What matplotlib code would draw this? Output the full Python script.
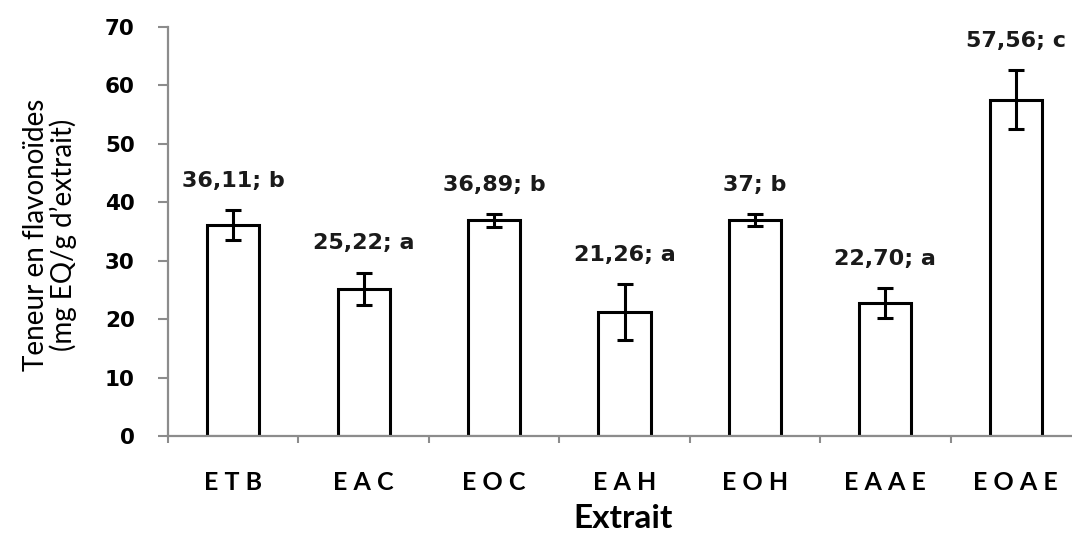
import matplotlib
matplotlib.use("Agg")
import matplotlib.pyplot as plt
from matplotlib.ticker import FixedLocator, NullFormatter
import numpy as np

categories = ["E T B", "E A C", "E O C", "E A H", "E O H", "E A A E", "E O A E"]
means = [36.11, 25.22, 36.89, 21.26, 37.0, 22.70, 57.56]
errors = [2.6, 2.75, 1.1, 4.8, 1.0, 2.55, 5.0]
labels = ["36,11; b", "25,22; a", "36,89; b", "21,26; a", "37; b", "22,70; a", "57,56; c"]
yticks = [0, 10, 20, 30, 40, 50, 60, 70]

W, H = 1072, 533
fig = plt.figure(figsize=(W / 100, H / 100), dpi=100)
ax = fig.add_axes([168 / W, 1 - 436 / H, (1081 - 168) / W, (436 - 27) / H])

x = np.arange(len(categories))
ax.bar(x, means, width=0.4, color="white", edgecolor="black", linewidth=2.2, zorder=2)
ax.errorbar(x, means, yerr=errors, fmt="none", ecolor="black", elinewidth=2.2,
            capsize=6, capthick=2.2, zorder=3)

for xi, m, e, lab in zip(x, means, errors, labels):
    ax.annotate(lab, (xi, m + e), xytext=(0, 21), textcoords="offset points",
                ha="center", va="center", fontsize=16, fontweight="bold",
                family="DejaVu Sans", color="#1a1a1a")

ax.set_xlim(-0.5, len(categories) - 0.5)
ax.set_ylim(0, 70)
ax.set_yticks(yticks)
ax.set_yticklabels([str(v) for v in yticks], fontsize=15.5, fontweight="bold",
                   family="DejaVu Sans")

# category names sit between boundary ticks
ax.xaxis.set_major_locator(FixedLocator(np.arange(-0.5, len(categories), 1.0)))
ax.xaxis.set_major_formatter(NullFormatter())
ax.xaxis.set_minor_locator(FixedLocator(x))
ax.set_xticklabels(categories, minor=True, fontsize=18, fontweight="bold", family="Lato")
ax.tick_params(axis="x", which="minor", length=0, pad=25)
ax.tick_params(axis="x", which="major", length=5, width=1.5, color="#8c8c8c", direction="out")
ax.tick_params(axis="y", length=7, width=1.5, color="#8c8c8c", direction="out", pad=17)

for side in ["top", "right"]:
    ax.spines[side].set_visible(False)
for side in ["left", "bottom"]:
    ax.spines[side].set_color("#8c8c8c")
    ax.spines[side].set_linewidth(1.6)

fig.text(50 / W, 1 - 235 / H, "Teneur en flavonoïdes\n(mg EQ/g d’extrait)", fontsize=20,
         family="Lato", rotation=90, ha="center", va="center", linespacing=1.05,
         multialignment="center")
fig.text(623 / W, 1 - 519 / H, "Extrait", fontsize=24, fontweight="bold", family="Lato",
         ha="center", va="center")

fig.savefig("out.png", dpi=100)
